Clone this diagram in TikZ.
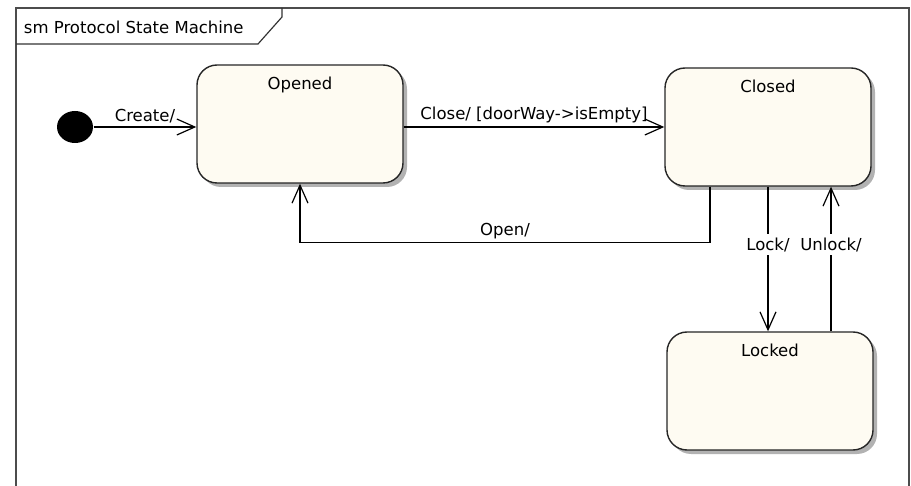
\documentclass[tikz,border=0pt]{standalone}
\usepackage{fontspec}
\setmainfont{DejaVu Sans}
\usetikzlibrary{arrows.meta,shadows,shapes.geometric}
\definecolor{statefill}{RGB}{254,251,242}

\begin{document}
\begin{tikzpicture}[x=1pt, y=-1pt, font=\fontsize{16.5}{19}\selectfont,
    >={Straight Barb[length=18pt,width=16pt]}, line width=1.2pt,
    state/.style={draw=black!85, line width=1.4pt, fill=statefill, rounded corners=20pt,
      minimum width=206pt, minimum height=118pt,
      drop shadow={shadow xshift=4pt, shadow yshift=-4pt, fill=black!30, opacity=1}},
    statename/.style={anchor=north, yshift=-9pt}]
    \useasboundingbox (0,0) rectangle (911,486);
    % frame
    \draw[black!70, line width=1.6pt] (16,486) -- (16,8) -- (909,8) -- (909,486);
    \draw[black!80] (16,44) -- (258,44) -- (282,17) -- (282,8);
    \node (title) [anchor=west] at (20,27) {sm Protocol State Machine};
    % states
    \node (init) [ellipse, fill=black, inner sep=0pt, minimum width=36pt, minimum height=32pt] at (75,127) {};
    \node (opened) [state, label={[statename]north:Opened}] at (300,124) {};
    \node (closed) [state, label={[statename]north:Closed}] at (768,127) {};
    \node (locked) [state, label={[statename]north:Locked}] at (770,391) {};
    % transitions
    \path[draw, ->] (init) -- node[above] {Create/} (opened.west |- init);
    \path[draw, ->] (closed.west -| opened.east) -- node[above] {Close/ [doorWay->isEmpty]} (closed.west);
    \path[draw, ->] ([xshift=-58pt]closed.south) -- ++(0,56) -| node[pos=0.25, above] {Open/} (opened.south);
    \path[draw, ->] (closed.south) -- node[pos=0.4, fill=white] {Lock/} (closed.south |- locked.north);
    \path[draw, ->] ([xshift=61pt]locked.north) -- node[pos=0.6, fill=white] {Unlock/} ([xshift=61pt]locked.north |- closed.south);
\end{tikzpicture}
\end{document}
